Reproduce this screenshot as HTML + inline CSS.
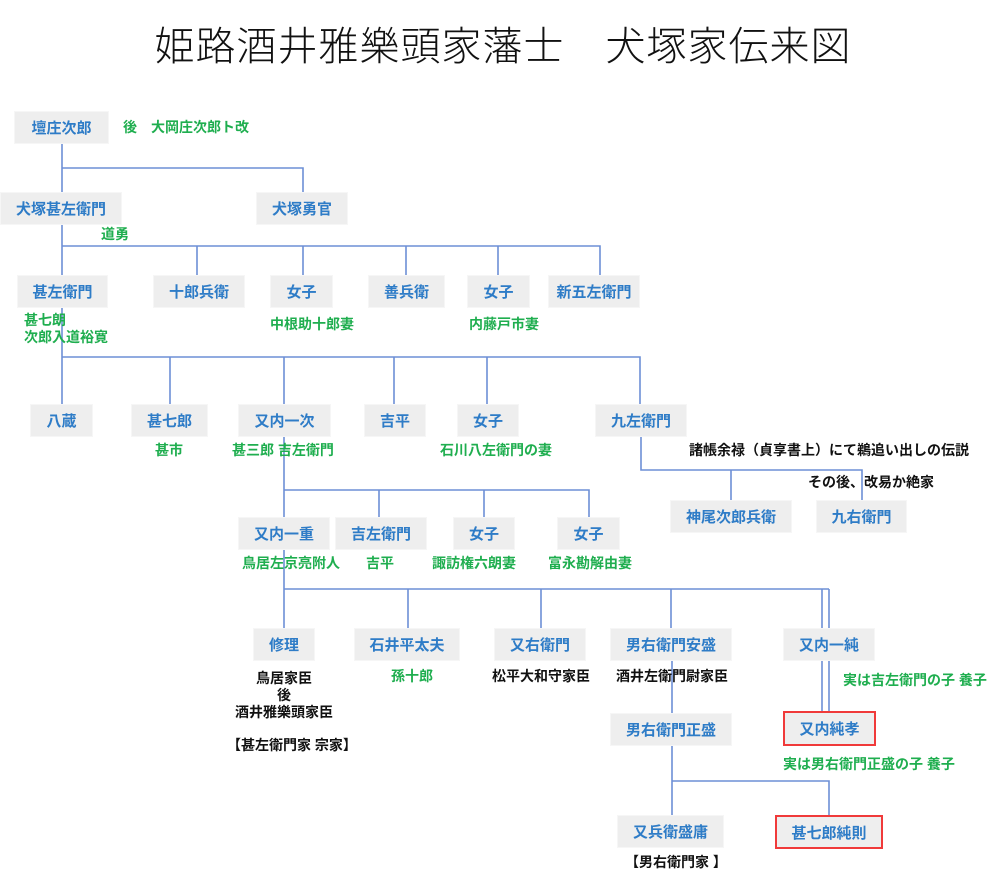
<!DOCTYPE html>
<html><head><meta charset="utf-8"><style>
body{margin:0;width:1006px;height:884px;background:#fff;position:relative;overflow:hidden;font-family:"Liberation Sans","Noto Sans CJK JP",sans-serif}
.t{position:absolute;left:0;top:14px;width:1006px;text-align:center;font-size:40px;font-weight:300;color:#111;letter-spacing:1px;font-family:"Noto Sans CJK JP",sans-serif}
.b{position:absolute;background:#eeeeee;border:1px solid #f6f6f6;box-sizing:border-box;color:#2e7cc7;font-weight:bold;font-size:15px;display:flex;align-items:center;justify-content:center;white-space:nowrap}
.g{position:absolute;color:#1fae4f;font-size:14px;font-weight:bold;white-space:nowrap;line-height:17px}
.k{position:absolute;color:#111;font-size:14px;font-weight:bold;white-space:nowrap;line-height:17px}
.c{text-align:center}
svg{position:absolute;left:0;top:0}
</style></head><body>
<div class="t">姫路酒井雅樂頭家藩士　犬塚家伝来図</div>
<svg width="1006" height="884"><g stroke="#6d8fd6" stroke-width="1.6" fill="none">
<path d="M62 143V192M62 168H303V192"/>
<path d="M62 225V275M62 246H600V275M197 246V275M303 246V275M406 246V275M498 246V275"/>
<path d="M62 308V404M62 357H640V404M170 357V404M284 357V404M394 357V404M487 357V404"/>
<path d="M641 437V470H862V500M731 470V500"/>
<path d="M284 437V628M284 490H589V517M379 490V517M484 490V517"/>
<path d="M284 589H829M408 589V628M541 589V628M671 589V628M822 589V711M829 589V711"/>
<path d="M672 661V713M672 746V815M672 781H829V815"/>
</g></svg>
<div class="b" style="left:14px;top:111px;width:95px;height:33px">壇庄次郎</div>
<div class="g" style="left:123px;top:119px">後　大岡庄次郎ト改</div>
<div class="b" style="left:0px;top:192px;width:122px;height:33px">犬塚甚左衛門</div>
<div class="b" style="left:256px;top:192px;width:92px;height:33px">犬塚勇官</div>
<div class="g" style="left:101px;top:226px">道勇</div>
<div class="b" style="left:17px;top:275px;width:91px;height:33px">甚左衛門</div>
<div class="b" style="left:153px;top:275px;width:92px;height:33px">十郎兵衛</div>
<div class="b" style="left:270px;top:275px;width:63px;height:33px">女子</div>
<div class="b" style="left:368px;top:275px;width:77px;height:33px">善兵衛</div>
<div class="b" style="left:467px;top:275px;width:63px;height:33px">女子</div>
<div class="b" style="left:548px;top:275px;width:92px;height:33px">新五左衛門</div>
<div class="g" style="left:270px;top:316px">中根助十郎妻</div>
<div class="g" style="left:469px;top:316px">内藤戸市妻</div>
<div class="g" style="left:24px;top:312px">甚七朗<br>次郎入道裕寛</div>
<div class="b" style="left:30px;top:404px;width:63px;height:33px">八蔵</div>
<div class="b" style="left:131px;top:404px;width:77px;height:33px">甚七郎</div>
<div class="b" style="left:238px;top:404px;width:93px;height:33px">又内一次</div>
<div class="b" style="left:364px;top:404px;width:62px;height:33px">吉平</div>
<div class="b" style="left:457px;top:404px;width:62px;height:33px">女子</div>
<div class="b" style="left:595px;top:404px;width:92px;height:33px">九左衛門</div>
<div class="g" style="left:155px;top:442px">甚市</div>
<div class="g" style="left:232px;top:442px">甚三郎 吉左衛門</div>
<div class="g" style="left:440px;top:442px">石川八左衛門の妻</div>
<div class="k" style="left:689px;top:442px">諸帳余禄（貞享書上）にて鵜追い出しの伝説</div>
<div class="k" style="left:808px;top:474px">その後、改易か絶家</div>
<div class="b" style="left:670px;top:500px;width:122px;height:33px">神尾次郎兵衛</div>
<div class="b" style="left:816px;top:500px;width:91px;height:33px">九右衛門</div>
<div class="b" style="left:238px;top:517px;width:92px;height:33px">又内一重</div>
<div class="b" style="left:335px;top:517px;width:92px;height:33px">吉左衛門</div>
<div class="b" style="left:453px;top:517px;width:62px;height:33px">女子</div>
<div class="b" style="left:557px;top:517px;width:63px;height:33px">女子</div>
<div class="g" style="left:242px;top:555px">鳥居左京亮附人</div>
<div class="g" style="left:366px;top:555px">吉平</div>
<div class="g" style="left:432px;top:555px">諏訪権六朗妻</div>
<div class="g" style="left:548px;top:555px">富永勘解由妻</div>
<div class="b" style="left:253px;top:628px;width:62px;height:33px">修理</div>
<div class="b" style="left:354px;top:628px;width:106px;height:33px">石井平太夫</div>
<div class="b" style="left:494px;top:628px;width:92px;height:33px">又右衛門</div>
<div class="b" style="left:610px;top:628px;width:122px;height:33px">男右衛門安盛</div>
<div class="b" style="left:783px;top:628px;width:92px;height:33px">又内一純</div>
<div class="k c" style="left:214px;top:670px;width:140px">鳥居家臣<br>後<br>酒井雅樂頭家臣</div>
<div class="k" style="left:227px;top:737px">【甚左衛門家 宗家】</div>
<div class="g" style="left:391px;top:668px">孫十郎</div>
<div class="k" style="left:492px;top:668px">松平大和守家臣</div>
<div class="k" style="left:616px;top:668px">酒井左衛門尉家臣</div>
<div class="g" style="left:843px;top:672px">実は吉左衛門の子 養子</div>
<div class="b" style="left:610px;top:713px;width:122px;height:33px">男右衛門正盛</div>
<div class="b" style="left:783px;top:711px;width:93px;height:35px;border:2px solid #f03a3a">又内純孝</div>
<div class="g" style="left:783px;top:756px">実は男右衛門正盛の子 養子</div>
<div class="b" style="left:617px;top:815px;width:107px;height:33px">又兵衛盛庸</div>
<div class="b" style="left:775px;top:815px;width:108px;height:34px;border:2px solid #f03a3a">甚七郎純則</div>
<div class="k" style="left:625px;top:854px">【男右衛門家 】</div>
</body></html>
